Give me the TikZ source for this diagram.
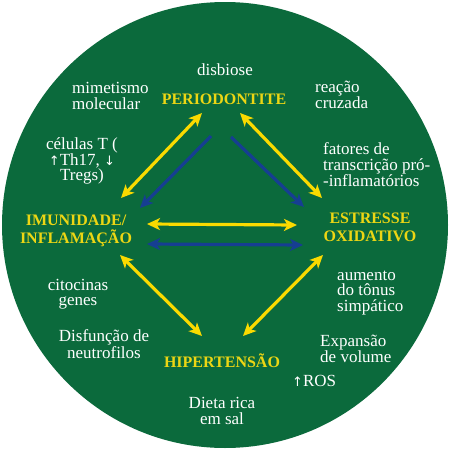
\documentclass[tikz,border=0pt]{standalone}
\usepackage{fontspec}
\setmainfont{Liberation Serif}
\newfontfamily\arrowfont{DejaVu Sans}
\usepackage{tikz}
\usetikzlibrary{arrows.meta,positioning}

\definecolor{discgreen}{RGB}{11,106,60}
\definecolor{arrowyellow}{RGB}{250,218,0}
\definecolor{labelyellow}{RGB}{236,214,20}
\definecolor{arrowblue}{RGB}{22,62,146}

\newcommand{\smallup}{{\arrowfont\fontsize{13}{13}\selectfont ↑}}
\newcommand{\smalldown}{{\arrowfont\fontsize{13}{13}\selectfont ↓}}

\begin{document}
\begin{tikzpicture}[x=1pt,y=-1pt,
  >={Stealth[length=13pt,width=12pt,inset=3.5pt]},
  main node/.style={inner sep=0pt,text=labelyellow,align=center,
    font=\fontsize{16}{18}\selectfont\bfseries},
  note node/.style={inner sep=0pt,text=white,
    font=\fontsize{17}{15.5}\selectfont},
  yellow arrow/.style={arrowyellow,line width=3.2pt,<->},
  blue arrow/.style={arrowblue,line width=3.2pt,->}]
  \useasboundingbox (0,0) rectangle (450,450);
  \fill[white] (0,0) rectangle (450,450);
  \fill[discgreen] (225,225) circle (223);

  % four conditions
  \node[main node] (per) at (224,99) {PERIODONTITE};
  \node[main node] (imu) at (76,231) {IMUNIDADE/\\INFLAMAÇÃO};
  \node[main node] (est) at (370,227) {ESTRESSE\\OXIDATIVO};
  \node[main node] (hip) at (222,361) {HIPERTENSÃO};

  % mechanisms
  \node[note node] (dis) at (225,70) {disbiose};
  \node[note node,align=left,anchor=west] (mim) at (72,96) {mimetismo\\molecular};
  \node[note node,align=center] (cel) at (82,161)
    {células T (\\\smallup Th17, \smalldown\\Tregs)};
  \node[note node,align=left,anchor=west] (rea) at (315,95) {reação\\cruzada};
  \node[note node,align=left,anchor=west] (fat) at (323,165)
    {fatores de\\transcrição pró-\\-inflamatórios};
  \node[note node,align=center] (cit) at (78,294) {citocinas\\genes};
  \node[note node,align=center] (neu) at (104,344) {Disfunção de\\neutrofilos};
  \node[note node,align=center] (sal) at (222,411) {Dieta rica\\em sal};
  \node[note node,align=left,anchor=west] (aum) at (337,293)
    {aumento\\do tônus\\simpático};
  \node[note node,align=left,anchor=west] (exp) at (320,349) {Expansão\\de volume};
  \node[note node,anchor=west] (ros) at (292,381) {\smallup ROS};

  % arrow ends
  \coordinate (per-yl) at (202,113);
  \coordinate (per-yr) at (240,113);
  \coordinate (per-bl) at (211,136);
  \coordinate (per-br) at (231,137);
  \coordinate (imu-yt) at (121,198);
  \coordinate (imu-bt) at (140,208);
  \coordinate (imu-y) at (147,224);
  \coordinate (imu-b) at (147,244);
  \coordinate (imu-yb) at (120,255);
  \coordinate (est-yt) at (322,198);
  \coordinate (est-bt) at (304,207);
  \coordinate (est-y) at (297,225);
  \coordinate (est-b) at (303,245);
  \coordinate (est-yb) at (323,255);
  \coordinate (hip-yl) at (202,336);
  \coordinate (hip-yr) at (243,336);

  \path[yellow arrow]
  (per-yl) edge (imu-yt)
  (per-yr) edge (est-yt)
  (imu-y) edge (est-y)
  (imu-yb) edge (hip-yl)
  (est-yb) edge (hip-yr);
  \path[blue arrow]
  (per-bl) edge (imu-bt)
  (per-br) edge (est-bt)
  (imu-b) edge [<->] (est-b);

\end{tikzpicture}
\end{document}
